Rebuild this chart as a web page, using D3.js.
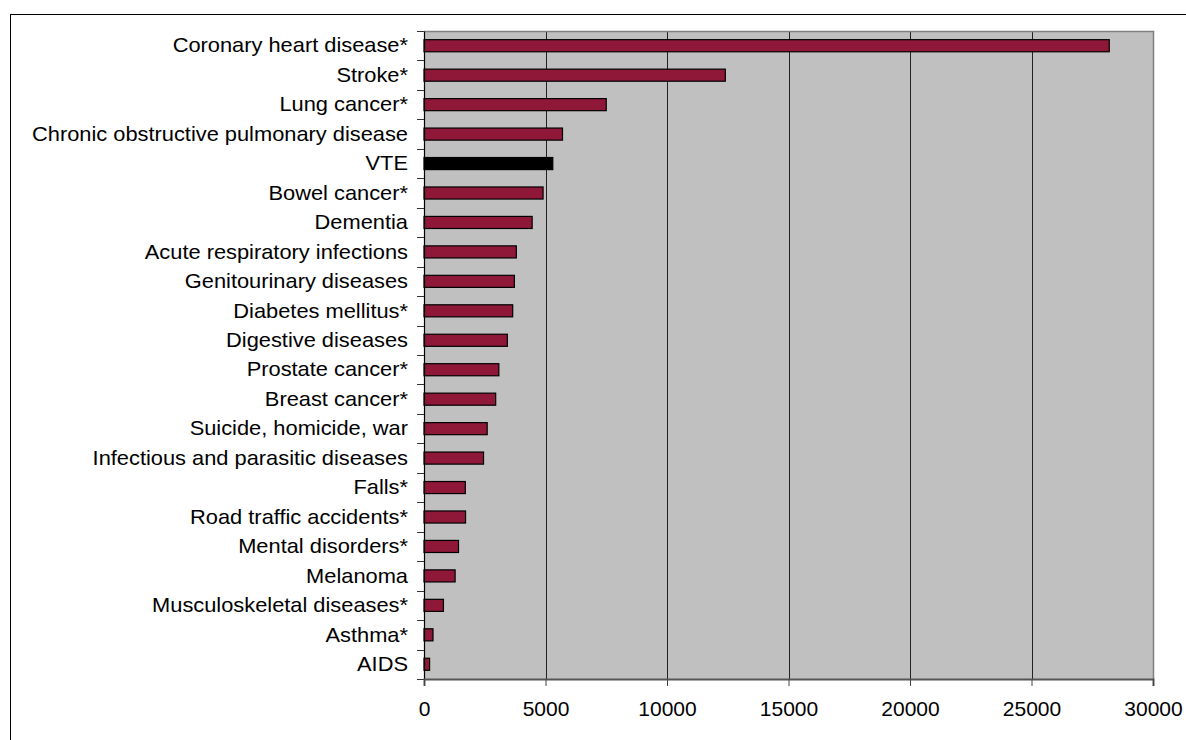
<!DOCTYPE html>
<html>
<head>
<meta charset="utf-8">
<script src="https://cdn.jsdelivr.net/npm/d3@7"></script>
<style>
  html, body { margin: 0; padding: 0; background: #fff; }
  svg { display: block; }
  text { font-family: "Liberation Sans", Arial, sans-serif; fill: #000; }
</style>
</head>
<body>
<svg id="chart" width="1186" height="740"></svg>
<script>
// Causes of death, ranked
const categories = [
  "Coronary heart disease*", "Stroke*", "Lung cancer*",
  "Chronic obstructive pulmonary disease", "VTE", "Bowel cancer*",
  "Dementia", "Acute respiratory infections", "Genitourinary diseases",
  "Diabetes mellitus*", "Digestive diseases", "Prostate cancer*",
  "Breast cancer*", "Suicide, homicide, war", "Infectious and parasitic diseases",
  "Falls*", "Road traffic accidents*", "Mental disorders*", "Melanoma",
  "Musculoskeletal diseases*", "Asthma*", "AIDS"
];
const deaths = [
  28200, 12400, 7500, 5700, 5300, 4900, 4450, 3800, 3720, 3650, 3430,
  3080, 2950, 2600, 2450, 1700, 1710, 1420, 1280, 800, 370, 230
];
const highlighted = ["VTE"];
const xTicks = [0, 5000, 10000, 15000, 20000, 25000, 30000];

const svg = d3.select("#chart");
const plot = { left: 424, right: 1153, top: 31, bottom: 679 };

// Outer chart frame (runs off the right and bottom edges)
svg.append("rect")
  .attr("x", 10.5).attr("y", 14.5)
  .attr("width", 1200).attr("height", 800)
  .attr("fill", "#fff").attr("stroke", "#000").attr("stroke-width", 1);

const x = d3.scaleLinear().domain([0, 30000]).range([plot.left, plot.right]);
const y = d3.scaleBand().domain(categories).range([plot.top, plot.bottom]).paddingInner(0.59).paddingOuter(0.295);

// Plot background
svg.append("rect")
  .attr("x", plot.left).attr("y", plot.top)
  .attr("width", plot.right - plot.left).attr("height", plot.bottom - plot.top)
  .attr("fill", "#c0c0c0");

// Vertical gridlines
svg.append("g")
  .selectAll("line")
  .data(xTicks.filter(d => d > 0 && d < 30000))
  .join("line")
  .attr("x1", d => Math.round(x(d)) + 0.5).attr("x2", d => Math.round(x(d)) + 0.5)
  .attr("y1", plot.top).attr("y2", plot.bottom)
  .attr("stroke", "#222").attr("stroke-width", 1);

// Top and right borders of the plot area
svg.append("path")
  .attr("d", `M${plot.left},${plot.top + 0.5}H${plot.right + 0.5}V${plot.bottom}`)
  .attr("fill", "none").attr("stroke", "#808080").attr("stroke-width", 1.5);

// Bars
svg.append("g")
  .selectAll("rect")
  .data(categories.map((c, i) => ({ c, v: deaths[i] })))
  .join("rect")
  .attr("x", x(0))
  .attr("y", d => y(d.c))
  .attr("width", d => x(d.v) - x(0))
  .attr("height", y.bandwidth())
  .attr("fill", d => highlighted.includes(d.c) ? "#000" : "#8f1737")
  .attr("stroke", "#000").attr("stroke-width", 1.2);

// Category axis
const yAxis = d3.axisLeft(y).tickSize(0).tickPadding(0);
const yg = svg.append("g").attr("transform", `translate(${plot.left},0)`).call(yAxis);
yg.select(".domain").attr("stroke", "#000").attr("stroke-width", 1.2);
yg.selectAll("text")
  .attr("font-size", 21)
  .attr("font-family", "Liberation Sans, Arial, sans-serif")
  .attr("x", 0)
  .attr("transform", "translate(-16,0) scale(1.04,1)");
// Tick marks sit between the categories
const boundaries = d3.range(categories.length + 1).map(i => plot.top + i * (plot.bottom - plot.top) / categories.length);
svg.append("g")
  .selectAll("line")
  .data(boundaries)
  .join("line")
  .attr("x1", plot.left - 7).attr("x2", plot.left)
  .attr("y1", d => Math.round(d) + 0.5).attr("y2", d => Math.round(d) + 0.5)
  .attr("stroke", "#333").attr("stroke-width", 1);

// Value axis
const xAxis = d3.axisBottom(x).tickValues(xTicks).tickSize(7).tickPadding(15).tickFormat(d3.format("d"));
const xg = svg.append("g").attr("transform", `translate(0,${plot.bottom})`).call(xAxis);
xg.select(".domain").attr("stroke", "#555").attr("stroke-width", 2);
xg.selectAll(".tick line").attr("stroke", "#444");
xg.selectAll("text").attr("font-size", 21).attr("font-family", "Liberation Sans, Arial, sans-serif");
</script>
</body>
</html>
